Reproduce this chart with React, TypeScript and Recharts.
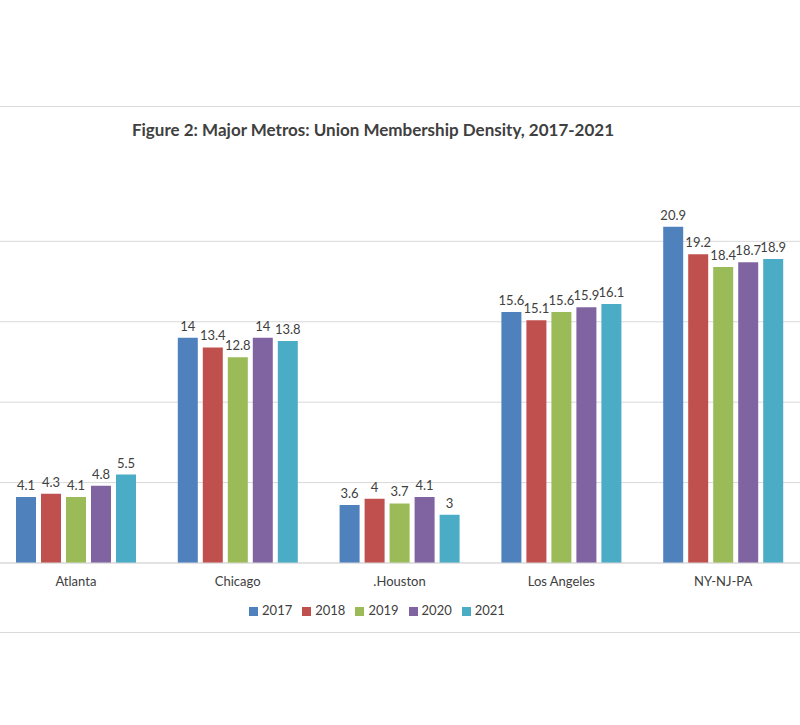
import { Bar, BarChart, CartesianGrid, LabelList, Legend, XAxis, YAxis } from "recharts";

const metros = ["Atlanta", "Chicago", ".Houston", "Los Angeles", "NY-NJ-PA"];
const years = ["2017", "2018", "2019", "2020", "2021"];
const colors = ["#4f81bd", "#c0504d", "#9bbb59", "#8064a2", "#4bacc6"];

const v2017 = [4.1, 14, 3.6, 15.6, 20.9];
const v2018 = [4.3, 13.4, 4, 15.1, 19.2];
const v2019 = [4.1, 12.8, 3.7, 15.6, 18.4];
const v2020 = [4.8, 14, 4.1, 15.9, 18.7];
const v2021 = [5.5, 13.8, 3, 16.1, 18.9];

const yTicks = [0, 5, 10, 15, 20];

const series = [v2017, v2018, v2019, v2020, v2021];
const data = metros.map((m, i) => {
  const row: Record<string, string | number> = { metro: m };
  years.forEach((y, j) => {
    row[y] = series[j][i];
  });
  return row;
});

const font = "Lato, 'Open Sans', sans-serif";

const App = () => {
  return (
    <div
      style={{
        position: "absolute",
        left: 0,
        top: 0,
        width: 800,
        height: 725,
        overflow: "hidden",
        background: "#fff",
        fontFamily: font,
      }}
    >
      <div style={{ position: "absolute", left: 0, top: 106, width: 800, height: 1, background: "#d9d9d9" }} />
      <div style={{ position: "absolute", left: 0, top: 632, width: 800, height: 1, background: "#d9d9d9" }} />
      <div
        style={{
          position: "absolute",
          left: 123,
          width: 500,
          top: 119,
          textAlign: "center",
          fontSize: 17,
          fontWeight: 700,
          color: "#404040",
          whiteSpace: "nowrap",
        }}
      >
        Figure 2: Major Metros: Union Membership Density, 2017-2021
      </div>
      <div style={{ position: "absolute", left: -5, top: 0 }}>
        <BarChart
          width={809}
          height={725}
          data={data}
          margin={{ top: 161, right: 0, bottom: 132, left: 0 }}
          barSize={20}
          barGap={5}
        >
          <CartesianGrid vertical={false} stroke="#d9d9d9" horizontalValues={yTicks} />
          <XAxis
            dataKey="metro"
            axisLine={{ stroke: "#d9d9d9" }}
            tickLine={false}
            tick={{ fill: "#404040", fontSize: 13, fontFamily: font }}
            tickMargin={8}
            height={30}
          />
          <YAxis hide domain={[0, 24]} ticks={yTicks} />
          <Legend
            verticalAlign="top"
            iconType="square"
            iconSize={9}
            wrapperStyle={{
              position: "absolute",
              top: 602,
              left: 242,
              width: 290,
              fontSize: 13,
              fontFamily: font,
              whiteSpace: "nowrap",
            }}
            formatter={(value) => <span style={{ color: "#404040" }}>{value}</span>}
          />
          {years.map((y, j) => (
            <Bar key={y} dataKey={y} fill={colors[j]} isAnimationActive={false}>
              <LabelList
                dataKey={y}
                position="top"
                offset={7}
                style={{ fill: "#404040", fontSize: 13, fontFamily: font }}
              />
            </Bar>
          ))}
        </BarChart>
      </div>
    </div>
  );
};

export default App;
